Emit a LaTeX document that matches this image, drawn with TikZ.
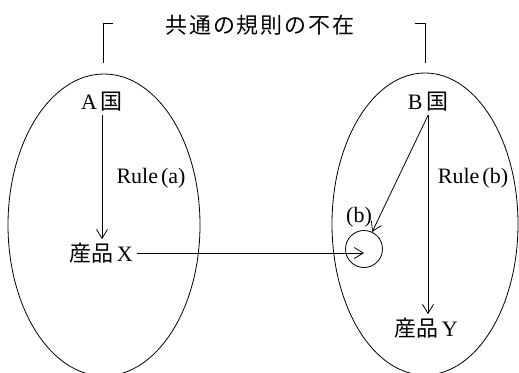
\documentclass[tikz,border=0pt]{standalone}
\usepackage{fontspec}
\setmainfont{Liberation Serif}
\newfontfamily\jp{Noto Sans CJK JP}
\newfontfamily\jpwide[LetterSpace=9]{Noto Sans CJK JP}
\usetikzlibrary{positioning,arrows.meta,shapes.geometric}

\begin{document}
\begin{tikzpicture}[x=1pt,y=-1pt,line width=0.8pt,>={Straight Barb[length=9pt,width=11pt]},
  every node/.style={font=\fontsize{22}{26}\selectfont}]
\useasboundingbox (0,0) rectangle (519,372);
\node (title) at (260,25) {\jpwide 共通の規則の不在};
\draw (113,23) -- (103,23) -- (103,63);
\draw (415,23) -- (425,23) -- (425,63);
\node[draw,ellipse,minimum width=192pt,minimum height=302pt,inner sep=0pt] (landa) at (104,225) {};
\node[draw,ellipse,minimum width=186pt,minimum height=302pt,inner sep=0pt] (landb) at (425,224) {};
\node (a) at (102,102) {A\,{\jp 国}};
\node (x) at (101,253) {{\jp 産品}\,X};
\node at (151,178) {Rule\kern3pt(a)};
\node (b) at (428,102) {B\,{\jp 国}};
\node (y) at (426,328) {{\jp 産品}\,Y};
\node at (473,178) {Rule\kern3pt(b)};
\node[draw,circle,minimum size=37pt,inner sep=0pt] (slot) at (364,249) {};
\node at (359,217) {(b)};
\draw[->] (a.south) -- (a.south |- x.north);
\draw[->] (x.east) -- (x.east -| slot);
\draw[->] (b.south) -- (b.south |- y.north);
\draw[->] (b.south) -- (slot);
\end{tikzpicture}
\end{document}
